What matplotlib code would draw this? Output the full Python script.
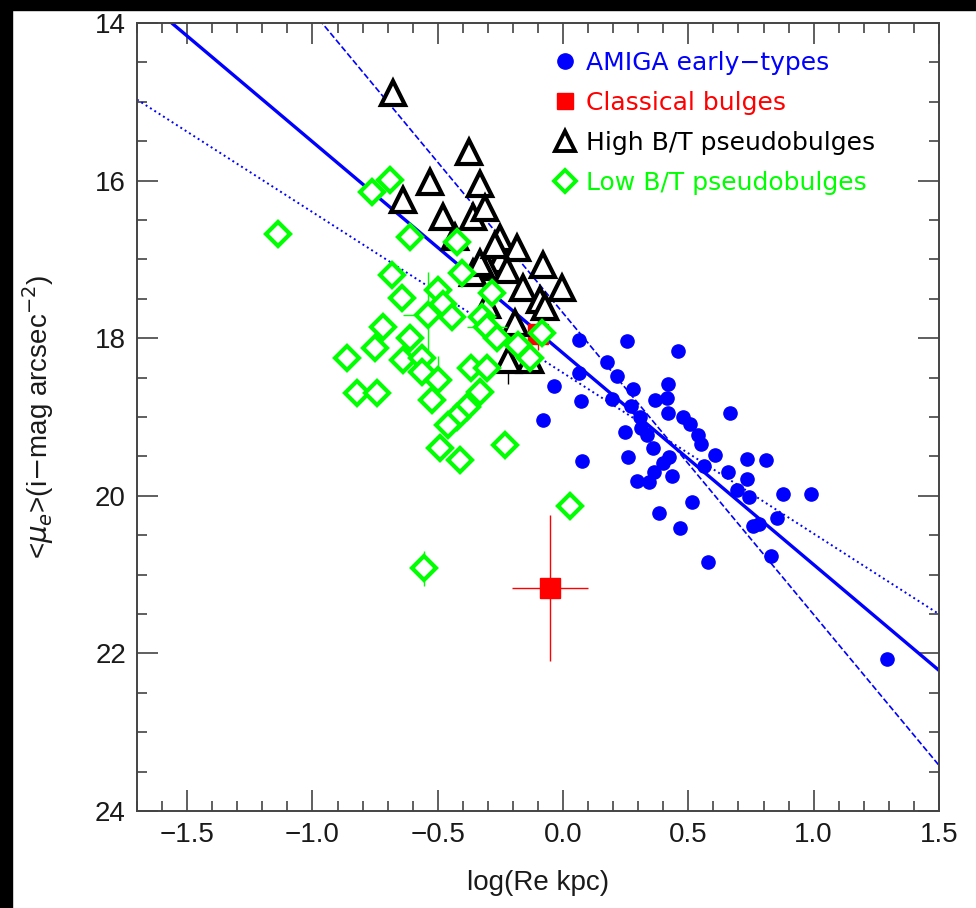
import numpy as np
import matplotlib.pyplot as plt
from matplotlib.lines import Line2D
from matplotlib.patches import Rectangle

plt.rcParams['font.family'] = ['Liberation Sans', 'DejaVu Sans']

# AMIGA early-types
blue_x = [0.064, 0.255, 0.459, 0.176, 0.215, 0.064, -0.036, 0.279, 0.419, 0.072,
          0.196, 0.271, 0.367, 0.415, 0.419, -0.080, 0.307, 0.479, 0.507, 0.666,
          0.247, 0.311, 0.335, 0.539, 0.551, 0.359, 0.076, 0.259, 0.423, 0.399,
          0.607, 0.734, 0.810, 0.563, 0.363, 0.435, 0.658, 0.734, 0.295, 0.343,
          0.694, 0.742, 0.878, 0.990, 0.515, 0.383, 0.467, 0.854, 0.758, 0.782,
          0.830, 0.579, 1.293]
blue_y = [18.02, 18.04, 18.16, 18.30, 18.48, 18.44, 18.61, 18.64, 18.58, 18.80,
          18.77, 18.86, 18.78, 18.76, 18.95, 19.04, 19.00, 19.00, 19.09, 18.95,
          19.19, 19.14, 19.23, 19.23, 19.34, 19.39, 19.56, 19.51, 19.51, 19.58,
          19.48, 19.53, 19.55, 19.62, 19.70, 19.75, 19.70, 19.79, 19.81, 19.82,
          19.93, 20.02, 19.98, 19.98, 20.08, 20.22, 20.41, 20.28, 20.38, 20.36,
          20.76, 20.84, 22.07]

# Classical bulges
red_x = [-0.10, -0.052]
red_y = [17.95, 21.17]
red_xerr = [0.03, 0.15]
red_yerr = [0.2, 0.93]

# High B/T pseudobulges
tri_x = [-0.678, -0.375, -0.531, -0.331, -0.638, -0.479, -0.359, -0.311, -0.431, -0.251,
         -0.184, -0.279, -0.251, -0.303, -0.359, -0.223, -0.080, -0.004, -0.160, -0.092,
         -0.072, -0.303, -0.192, -0.219, -0.132, -0.330, -0.270]
tri_y = [14.89, 15.64, 16.02, 16.04, 16.25, 16.46, 16.46, 16.35, 16.72, 16.73,
         16.86, 16.92, 17.01, 17.10, 17.17, 17.13, 17.07, 17.36, 17.36, 17.52,
         17.60, 17.58, 17.81, 18.28, 18.28, 17.05, 16.82]

# Low B/T pseudobulges
dia_x = [-1.137, -0.762, -0.690, -0.611, -0.423, -0.403, -0.682, -0.642, -0.499, -0.479,
         -0.539, -0.443, -0.283, -0.323, -0.303, -0.263, -0.084, -0.180, -0.132, -0.718,
         -0.611, -0.750, -0.862, -0.638, -0.563, -0.563, -0.499, -0.367, -0.303, -0.822,
         -0.742, -0.331, -0.383, -0.423, -0.459, -0.523, -0.491, -0.411, -0.231, 0.028,
         -0.555]
dia_y = [16.68, 16.14, 15.99, 16.72, 16.78, 17.17, 17.20, 17.49, 17.39, 17.57,
         17.71, 17.73, 17.43, 17.73, 17.86, 18.00, 17.93, 18.09, 18.25, 17.86,
         18.00, 18.12, 18.25, 18.28, 18.25, 18.43, 18.53, 18.38, 18.38, 18.70,
         18.70, 18.68, 18.87, 19.00, 19.10, 18.78, 19.39, 19.55, 19.36, 20.13,
         20.92]

# a few points with error bars
err_tri_x, err_tri_y, err_tri_ye = [-0.219], [18.28], [0.3]
err_dia_x = [-0.539, -0.555, -0.499, -0.303]
err_dia_y = [17.71, 20.92, 18.53, 17.86]
err_dia_xe = [0.10, 0.03, 0.02, 0.08]
err_dia_ye = [0.55, 0.22, 0.3, 0.1]

# fit lines: y = a + b*x
fits = [(18.19, 2.683, '-', 2.4), (17.68, 3.826, '--', 1.2), (18.44, 2.04, ':', 1.4)]

fig = plt.figure(figsize=(9.76, 9.08), dpi=100, facecolor='white')
# dark border of the original screenshot (top and left)
fig.patches.append(Rectangle((0, 1 - 10 / 908), 1, 10 / 908, transform=fig.transFigure,
                             color='black', zorder=0))
fig.patches.append(Rectangle((0, 0), 12 / 976, 1, transform=fig.transFigure,
                             color='black', zorder=0))

ax = fig.add_axes([0.1404, 0.1068, 0.962 - 0.1404, 0.9747 - 0.1068])
ax.set_facecolor('white')

xx = np.array([-1.7, 1.5])
for a, b, ls, lw in fits:
    ax.plot(xx, a + b * xx, color='blue', ls=ls, lw=lw, zorder=2)

ax.plot(blue_x, blue_y, 'o', color='blue', ms=9.5, mec='blue', zorder=3)
ax.errorbar(red_x, red_y, xerr=red_xerr, yerr=red_yerr, fmt='s', color='red',
            ms=15, elinewidth=1, capsize=0, zorder=4)
ax.errorbar(err_tri_x, err_tri_y, yerr=err_tri_ye, fmt='none', ecolor='black',
            elinewidth=1, zorder=4)
ax.plot(tri_x, tri_y, '^', mfc='white', mec='black', mew=3, ms=17, zorder=5)
ax.errorbar(err_dia_x, err_dia_y, xerr=err_dia_xe, yerr=err_dia_ye, fmt='none',
            ecolor=(0, 1, 0), elinewidth=1, zorder=5)
ax.plot(dia_x, dia_y, 'D', mfc='white', mec=(0, 1, 0), mew=3, ms=12, zorder=6)

ax.set_xlim(-1.7, 1.5)
ax.set_ylim(24, 14)
ax.set_xticks(np.arange(-1.5, 1.51, 0.5))
ax.set_xticks(np.arange(-1.7, 1.51, 0.1), minor=True)
ax.set_yticks([14, 16, 18, 20, 22, 24])
ax.set_yticks(np.arange(14, 24.01, 0.5), minor=True)
ax.set_xticklabels(['\u22121.5', '\u22121.0', '\u22120.5', '0.0', '0.5', '1.0', '1.5'])
ax.tick_params(which='both', direction='in', top=True, right=True, color='#444444',
               width=1.2, labelsize=20, labelcolor='#1a1a1a')
ax.tick_params(which='major', length=15, pad=8)
ax.tick_params(which='minor', length=7)
for s in ax.spines.values():
    s.set_color('#444444')
    s.set_linewidth(1.4)

ax.set_xlabel('log(Re kpc)', fontsize=20, color='#1a1a1a', labelpad=16)
ax.set_ylabel(r'<$\mu_e$>(i$-$mag arcsec$^{-2}$)', fontsize=20, color='#1a1a1a', labelpad=28)

handles = [Line2D([], [], ls='none', marker='o', color='blue', ms=11),
           Line2D([], [], ls='none', marker='s', color='red', ms=12),
           Line2D([], [], ls='none', marker='^', mfc='white', mec='black', mew=2.8, ms=14),
           Line2D([], [], ls='none', marker='D', mfc='white', mec=(0, 1, 0), mew=2.8, ms=11)]
labels = ['AMIGA early\u2212types', 'Classical bulges', 'High B/T pseudobulges',
          'Low B/T pseudobulges']
leg = ax.legend(handles, labels, loc='upper left', bbox_to_anchor=(0.493, 0.993),
                frameon=False, handlelength=0.8, handletextpad=0.45,
                labelspacing=0.64, prop={'family': 'DejaVu Sans', 'size': 18})
for t, c in zip(leg.get_texts(), ['blue', 'red', 'black', (0, 1, 0)]):
    t.set_color(c)

fig.savefig('out.png', dpi=100, facecolor='white')
